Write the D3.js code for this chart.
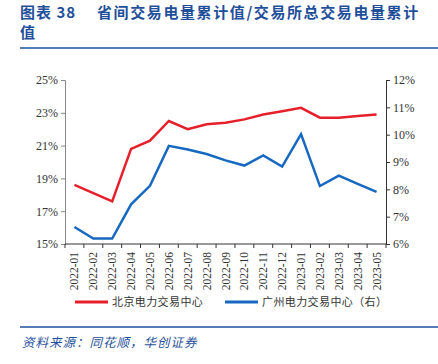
<!DOCTYPE html>
<html>
<head>
<meta charset="utf-8">
<script src="https://cdn.jsdelivr.net/npm/d3@7"></script>
<style>
body { margin: 0; background: #fff; }
svg { display: block; }
</style>
</head>
<body>
<script>
// data
var months = ["2022-01","2022-02","2022-03","2022-04","2022-05","2022-06","2022-07","2022-08","2022-09",
              "2022-10","2022-11","2022-12","2023-01","2023-02","2023-03","2023-04","2023-05"];
var beijing = [18.6, 18.1, 17.6, 20.8, 21.3, 22.5, 22.0, 22.3, 22.4, 22.6, 22.9, 23.1, 23.3, 22.7, 22.7, 22.8, 22.9];
var guangzhou = [6.62, 6.2, 6.2, 7.45, 8.13, 9.59, 9.46, 9.29, 9.06, 8.87, 9.24, 8.83, 10.02, 8.12, 8.5, 8.2, 7.91];
var leftTicks = [15, 17, 19, 21, 23, 25];
var rightTicks = [6, 7, 8, 9, 10, 11, 12];
var seriesNames = ["北京电力交易中心", "广州电力交易中心（右）"];
var seriesColors = ["#e5202a", "#1668c0"];

var W = 438, H = 364;
var x0 = 65, x1 = 386, yTop = 80, yBot = 244;
var serif = "'Liberation Serif', 'Times New Roman', serif";
var titleBlue = "#1f4f9a";

var svg = d3.select("body").append("svg")
    .attr("width", W)
    .attr("height", H);

// title
var title = svg.append("text")
    .attr("x", 20).attr("y", 18)
    .attr("font-family", "'Noto Sans CJK SC', sans-serif")
    .attr("font-weight", "bold")
    .attr("font-size", "15px")
    .attr("fill", titleBlue);
title.append("tspan").attr("letter-spacing", "1px").text("图表 38");
title.append("tspan").attr("x", 97).attr("letter-spacing", "1.6px")
    .text("省间交易电量累计值/交易所总交易电量累计");
svg.append("text")
    .attr("x", 20).attr("y", 38)
    .attr("font-family", "'Noto Sans CJK SC', sans-serif")
    .attr("font-weight", "bold")
    .attr("font-size", "15px")
    .attr("fill", titleBlue)
    .text("值");

svg.append("line")
    .attr("x1", 20).attr("x2", W).attr("y1", 48).attr("y2", 48)
    .attr("stroke", titleBlue).attr("stroke-width", 1.5);
svg.append("line")
    .attr("x1", 20).attr("x2", W).attr("y1", 327).attr("y2", 327)
    .attr("stroke", titleBlue).attr("stroke-width", 1.5);

svg.append("text")
    .attr("x", 22).attr("y", 347)
    .attr("font-family", "'Noto Sans CJK SC', sans-serif")
    .attr("font-style", "italic")
    .attr("font-size", "12.5px")
    .attr("letter-spacing", "1px")
    .attr("fill", titleBlue)
    .text("资料来源：同花顺，华创证券");

// scales
var x = d3.scaleBand().domain(months).range([x0, x1]);
var yL = d3.scaleLinear().domain([15, 25]).range([yBot, yTop]);
var yR = d3.scaleLinear().domain([6, 12]).range([yBot, yTop]);

// left axis
var gL = svg.append("g")
    .attr("transform", "translate(" + x0 + ",0)")
    .call(d3.axisLeft(yL).tickValues(leftTicks).tickSize(4).tickPadding(3)
        .tickFormat(function(d) { return d + "%"; }));
gL.selectAll("path, line").attr("stroke", "#888");

// right axis
var gR = svg.append("g")
    .attr("transform", "translate(" + x1 + ",0)")
    .call(d3.axisRight(yR).tickValues(rightTicks).tickSize(4).tickPadding(3)
        .tickFormat(function(d) { return d + "%"; }));
gR.selectAll("path, line").attr("stroke", "#333");

[gL, gR].forEach(function(g) {
    g.selectAll("text")
        .attr("font-family", serif)
        .attr("font-size", "12px")
        .attr("fill", "#333");
});

// bottom axis with ticks on band edges
var gB = svg.append("g").attr("transform", "translate(0," + yBot + ")");
gB.append("line").attr("x1", x0).attr("x2", x1).attr("stroke", "#333");
var edges = months.map(function(m) { return x(m); }).concat([x1]);
gB.selectAll("line.tk").data(edges).enter().append("line")
    .attr("class", "tk")
    .attr("x1", function(d) { return d; }).attr("x2", function(d) { return d; })
    .attr("y1", 0).attr("y2", 4)
    .attr("stroke", "#333");
gB.selectAll("text").data(months).enter().append("text")
    .attr("transform", function(d) {
        return "translate(" + (x(d) + x.bandwidth() / 2 + 4) + ",8) rotate(-90)";
    })
    .attr("text-anchor", "end")
    .attr("font-family", serif)
    .attr("font-size", "11.5px")
    .attr("fill", "#333")
    .text(function(d) { return d; });

// lines
var cx = function(d, i) { return x(months[i]) + x.bandwidth() / 2; };
var lineL = d3.line().x(cx).y(function(d) { return yL(d); });
var lineR = d3.line().x(cx).y(function(d) { return yR(d); });

svg.append("path").datum(guangzhou)
    .attr("d", lineR)
    .attr("fill", "none")
    .attr("stroke", seriesColors[1])
    .attr("stroke-width", 2.5);
svg.append("path").datum(beijing)
    .attr("d", lineL)
    .attr("fill", "none")
    .attr("stroke", seriesColors[0])
    .attr("stroke-width", 2.5);

// legend
var legX = [75, 225];
seriesNames.forEach(function(name, i) {
    svg.append("line")
        .attr("x1", legX[i]).attr("x2", legX[i] + 33)
        .attr("y1", 302).attr("y2", 302)
        .attr("stroke", seriesColors[i]).attr("stroke-width", 3);
    svg.append("text")
        .attr("x", legX[i] + 37).attr("y", 306)
        .attr("font-family", "'Noto Sans CJK SC', sans-serif")
        .attr("font-size", "11px")
        .attr("letter-spacing", "0.4px")
        .attr("fill", "#333")
        .text(name);
});
</script>
</body>
</html>
